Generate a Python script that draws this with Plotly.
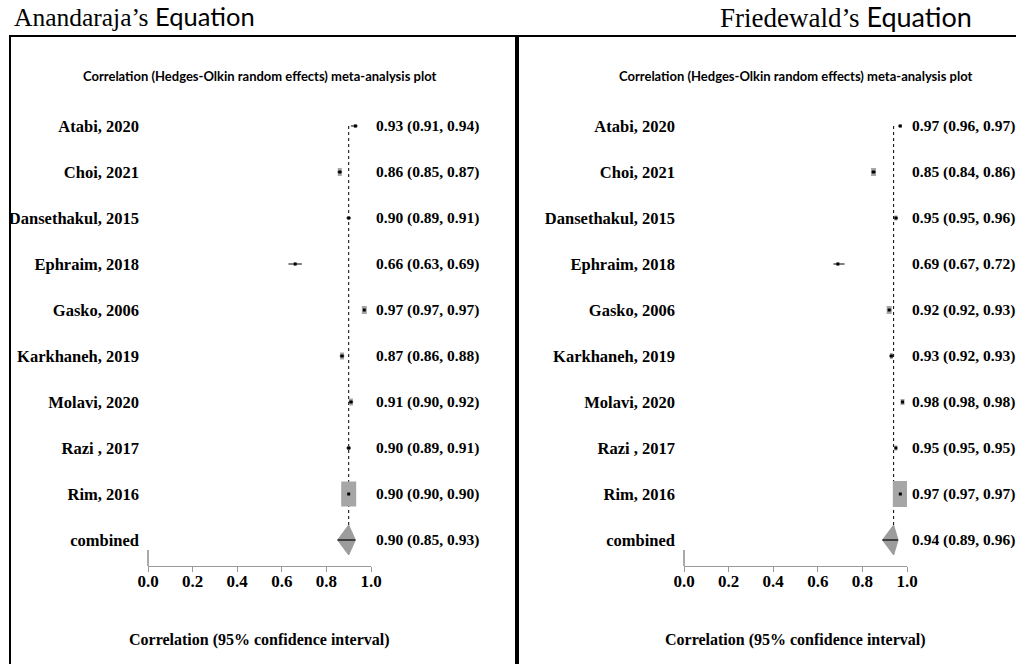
import plotly.graph_objects as go

# ---------------- data ----------------
studies = ["Atabi, 2020", "Choi, 2021", "Dansethakul, 2015", "Ephraim, 2018",
           "Gasko, 2006", "Karkhaneh, 2019", "Molavi, 2020", "Razi , 2017",
           "Rim, 2016", "combined"]

# Anandaraja's equation
a_est = [0.93, 0.86, 0.90, 0.66, 0.97, 0.87, 0.91, 0.90, 0.90]
a_lo = [0.91, 0.85, 0.89, 0.63, 0.97, 0.86, 0.90, 0.89, 0.90]
a_hi = [0.94, 0.87, 0.91, 0.69, 0.97, 0.88, 0.92, 0.91, 0.90]
a_comb = [0.90, 0.85, 0.93]  # est, lo, hi

# Friedewald's equation
f_est = [0.97, 0.85, 0.95, 0.69, 0.92, 0.93, 0.98, 0.95, 0.97]
f_lo = [0.96, 0.84, 0.95, 0.67, 0.92, 0.92, 0.98, 0.95, 0.97]
f_hi = [0.97, 0.86, 0.96, 0.72, 0.93, 0.93, 0.98, 0.95, 0.97]
f_comb = [0.94, 0.89, 0.96]

x_ticks = [0.0, 0.2, 0.4, 0.6, 0.8, 1.0]

# ---------------- style (weight boxes in pixels: width, height) ----------------
a_box = [(3, 3), (4, 8), (2, 4), (2, 3), (5, 8), (4, 7), (4, 7), (3, 4), (15, 25)]
f_box = [(2, 3), (5, 8), (3, 5), (2, 3), (5, 8), (3, 6), (4, 6), (3, 5), (15, 26)]

W, H = 1016, 664
X_UNIT = 223.0   # px per correlation unit
ROW = 46.0       # px per row
Y_TOP, Y_AXIS, ROW0 = 100, 566, 126

SERIF = "Liberation Serif, Times New Roman, serif"
SANS = "Lato, Open Sans, sans-serif"
GRAY = "#a6a6a6"
BOLD_SERIF = dict(family=SERIF, size=16.5, color="black", weight="bold")


def px(x):  # window pixel -> paper fraction
    return x / W


def py(y):
    return 1 - y / H


fig = go.Figure()

panels = [
    dict(est=a_est, lo=a_lo, hi=a_hi, comb=a_comb, box=a_box, x0=148, xs="x", ys="y"),
    dict(est=f_est, lo=f_lo, hi=f_hi, comb=f_comb, box=f_box, x0=684, xs="x2", ys="y2"),
]

n = len(a_est)
rows = list(range(n))
comb_row = n

for p in panels:
    est, lo, hi, comb, box = p["est"], p["lo"], p["hi"], p["comb"], p["box"]
    xs, ys = p["xs"], p["ys"]

    # dotted reference line at combined estimate (below boxes)
    fig.add_shape(type="line", xref=xs, yref=ys, x0=comb[0], x1=comb[0],
                  y0=0, y1=comb_row, layer="below",
                  line=dict(color="black", width=1, dash="dot"))

    # weight boxes
    bw = [b[0] / X_UNIT for b in box]
    bh = [b[1] / ROW for b in box]
    fig.add_trace(go.Bar(orientation="h", y=rows, x=bw,
                         base=[e - w / 2 for e, w in zip(est, bw)], width=bh,
                         marker=dict(color=GRAY, line=dict(width=0)),
                         xaxis=xs, yaxis=ys, showlegend=False, hoverinfo="skip"))

    # CI lines
    cx, cy = [], []
    for i in range(n):
        cx += [lo[i], hi[i], None]
        cy += [i, i, None]
    fig.add_trace(go.Scatter(x=cx, y=cy, mode="lines",
                             line=dict(color="black", width=1),
                             xaxis=xs, yaxis=ys, showlegend=False, hoverinfo="skip"))

    # point estimates
    fig.add_trace(go.Scatter(x=est, y=rows, mode="markers",
                             marker=dict(symbol="square", size=3, color="black"),
                             xaxis=xs, yaxis=ys, showlegend=False))

    # combined diamond
    hh = 15 / ROW
    fig.add_trace(go.Scatter(x=[comb[1], comb[0], comb[2], comb[0], comb[1]],
                             y=[comb_row, comb_row - hh, comb_row, comb_row + hh, comb_row],
                             mode="lines", fill="toself", fillcolor="#9c9c9c",
                             line=dict(color="#9c9c9c", width=1),
                             xaxis=xs, yaxis=ys, showlegend=False, hoverinfo="skip"))
    fig.add_trace(go.Scatter(x=[comb[1], comb[2]], y=[comb_row, comb_row], mode="lines",
                             line=dict(color="black", width=1.2),
                             xaxis=xs, yaxis=ys, showlegend=False, hoverinfo="skip"))

    # value labels on the right
    vals = [(est[i], lo[i], hi[i]) for i in range(n)] + [tuple(comb)]
    for i, (e, l, h) in enumerate(vals):
        fig.add_annotation(xref=f"{xs} domain", yref=ys, x=1, y=i,
                           text=f"{e:.2f} ({l:.2f}, {h:.2f})", showarrow=False,
                           xanchor="left", xshift=3,
                           font=dict(family=SERIF, size=15.5, color="black", weight="bold"))

    # panel title
    xc = px(p["x0"] + X_UNIT / 2)
    fig.add_annotation(xref="paper", yref="paper", x=xc, y=py(76),
                       text="Correlation (Hedges-Olkin random effects) meta-analysis plot",
                       showarrow=False, xanchor="center", yanchor="middle",
                       font=dict(family=SANS, size=13, color="black", weight="bold"))
    # axis title
    fig.add_annotation(xref="paper", yref="paper", x=xc, y=py(640),
                       text="Correlation (95% confidence interval)",
                       showarrow=False, xanchor="center", yanchor="middle",
                       font=dict(family=SERIF, size=16, color="black", weight="bold"))
    # short y-axis stub at x=0
    fig.add_shape(type="line", xref="paper", yref="paper",
                  x0=px(p["x0"]), x1=px(p["x0"]), y0=py(550), y1=py(Y_AXIS),
                  line=dict(color="#555555", width=1))

# headers
fig.add_annotation(xref="paper", yref="paper", x=px(12), y=py(17), xanchor="left",
                   yanchor="middle", showarrow=False,
                   text='<span style="font-family:Liberation Serif">Anandaraja’s</span> Equation',
                   font=dict(family=SANS, size=25.5, color="black"))
fig.add_annotation(xref="paper", yref="paper", x=px(974), y=py(17), xanchor="right",
                   yanchor="middle", showarrow=False,
                   text='<span style="font-family:Liberation Serif">Friedewald’s</span> Equation',
                   font=dict(family=SANS, size=27, color="black"))

# borders
fig.add_shape(type="line", xref="paper", yref="paper", x0=px(9), x1=1, y0=py(36), y1=py(36),
              line=dict(color="black", width=2))
fig.add_shape(type="line", xref="paper", yref="paper", x0=px(10), x1=px(10), y0=py(36), y1=0,
              line=dict(color="black", width=2))
fig.add_shape(type="line", xref="paper", yref="paper", x0=px(517), x1=px(517), y0=py(36), y1=0,
              line=dict(color="black", width=4))

y_range = [(Y_AXIS - ROW0) / ROW, (Y_TOP - ROW0) / ROW]
ydom = [py(Y_AXIS), py(Y_TOP)]

xaxis_common = dict(range=[0, 1], tickvals=x_ticks, ticktext=[f"{v:.1f}" for v in x_ticks],
                    showline=True, linecolor="#9a9a9a", linewidth=1, ticks="outside",
                    ticklen=5, tickcolor="#9a9a9a", showgrid=False, zeroline=False,
                    ticklabelstandoff=-5,
                    tickfont=dict(family=SERIF, size=17, color="black", weight="bold"),
                    automargin=False, fixedrange=True)
yaxis_common = dict(range=y_range, domain=ydom, tickvals=list(range(n + 1)), ticktext=studies,
                    showline=False, ticks="", showgrid=False, zeroline=False,
                    ticklabelstandoff=8, tickfont=BOLD_SERIF,
                    automargin=False, fixedrange=True)

fig.update_layout(
    template="none",
    width=W, height=H,
    margin=dict(l=0, r=0, t=0, b=0, autoexpand=False),
    paper_bgcolor="white", plot_bgcolor="white",
    barmode="overlay", showlegend=False,
    xaxis=dict(domain=[px(148), px(371)], anchor="y", **xaxis_common),
    yaxis=dict(anchor="x", **yaxis_common),
    xaxis2=dict(domain=[px(684), px(907)], anchor="y2", **xaxis_common),
    yaxis2=dict(anchor="x2", **yaxis_common),
)

# remove the page's default body margin so the figure fills the window exactly
fig.write_html("out.html",
               config={"displayModeBar": False},
               post_script="document.body.style.margin='0px';"
                           "document.body.style.overflow='hidden';")
